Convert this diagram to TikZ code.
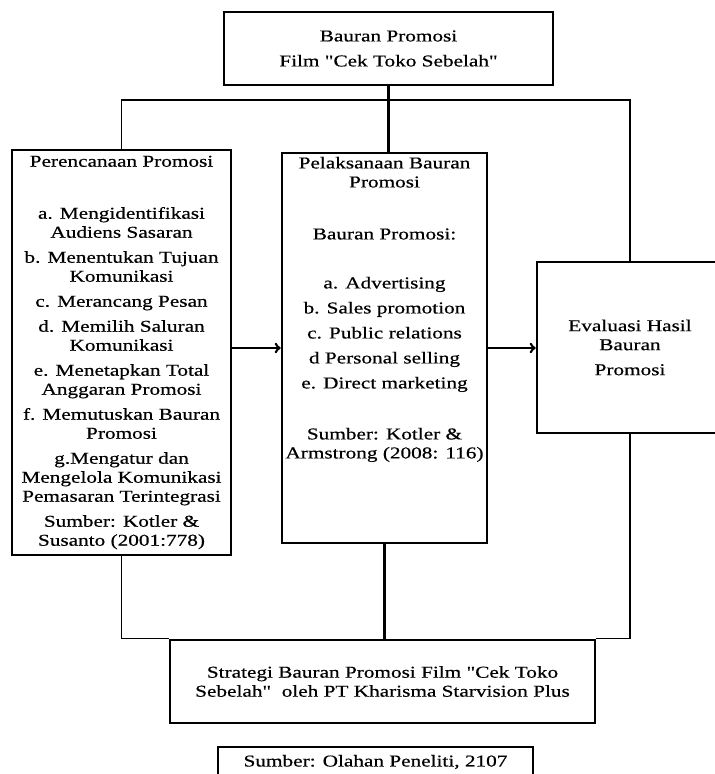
\documentclass[tikz,border=0pt]{standalone}
\usepackage{fontspec}
\setmainfont{Liberation Serif}[Ligatures=TeXOff,FakeStretch=1.28,FakeBold=0.5]
\newcommand{\boxfont}{\fontsize{16.6}{19}\selectfont}

\tikzset{
  box/.style={draw, line width=2.6pt, align=center, font=\boxfont, inner sep=0pt},
  thinline/.style={line width=1.5pt},
  thickline/.style={line width=2.6pt},
  arrowline/.style={line width=2.6pt, ->},
}

\begin{document}
\begin{tikzpicture}[x=1pt,y=-1pt]
  \useasboundingbox (0,0) rectangle (715,774);
  \clip (0,0) rectangle (715,774);

  % boxes
  \node[box, minimum width=329pt, minimum height=73pt] (top) at (388.5,48.5)
    {Bauran Promosi\\[6pt]Film "Cek Toko Sebelah"};
  \node[box, minimum width=219pt, minimum height=405pt] (left) at (121.5,352.5)
    {Perencanaan Promosi\\[33pt]
     a. Mengidentifikasi\\Audiens Sasaran\\[6pt]
     b. Menentukan Tujuan\\Komunikasi\\[6pt]
     c. Merancang Pesan\\[6pt]
     d. Memilih Saluran\\Komunikasi\\[6pt]
     e. Menetapkan Total\\Anggaran Promosi\\[6pt]
     f. Memutuskan Bauran\\Promosi\\[6pt]
     g.Mengatur dan\\Mengelola Komunikasi\\Pemasaran Terintegrasi\\[6pt]
     Sumber: Kotler \&\\Susanto (2001:778)};
  \node[box, minimum width=205pt, minimum height=390pt] (mid) at (384.5,348) {};
  \node[align=center, font=\boxfont, inner sep=0pt, anchor=north] (midtext)
    at ([yshift=-5pt]mid.north)
    {Pelaksanaan Bauran\\Promosi\\[33pt]
     Bauran Promosi:\\[30pt]
     a. Advertising\\[6pt]
     b. Sales promotion\\[6pt]
     c. Public relations\\[6pt]
     d Personal selling\\[6pt]
     e. Direct marketing\\[32pt]
     Sumber: Kotler \&\\Armstrong (2008: 116)};
  \node[box, minimum width=186pt, minimum height=171pt] (right) at (630,347.5)
    {Evaluasi Hasil\\Bauran\\[6pt]Promosi};
  \node[box, minimum width=425pt, minimum height=83pt] (bottom) at (382.5,681.5)
    {Strategi Bauran Promosi Film "Cek Toko\\Sebelah"\ \ oleh PT Kharisma Starvision Plus};
  \node[box, line width=1.5pt, minimum width=315pt, minimum height=30pt] (src) at (375.5,762)
    {Sumber: Olahan Peneliti, 2107};

  % connectors
  \coordinate (split) at (389,100);
  \draw[thickline] (top.south) -- (top.south |- mid.north);
  \draw[thinline] (left.north) |- (split) -| (right.north);
  \draw[thinline] (left.south) |- (bottom.north west);
  \draw[thinline] (right.south) |- (bottom.north east);
  \draw[thickline] (mid.south) -- (mid.south |- bottom.north);
  \draw[arrowline] (left.east |- mid.west) -- (mid.west);
  \draw[arrowline] (mid.east) -- (mid.east -| right.west);
\end{tikzpicture}
\end{document}
